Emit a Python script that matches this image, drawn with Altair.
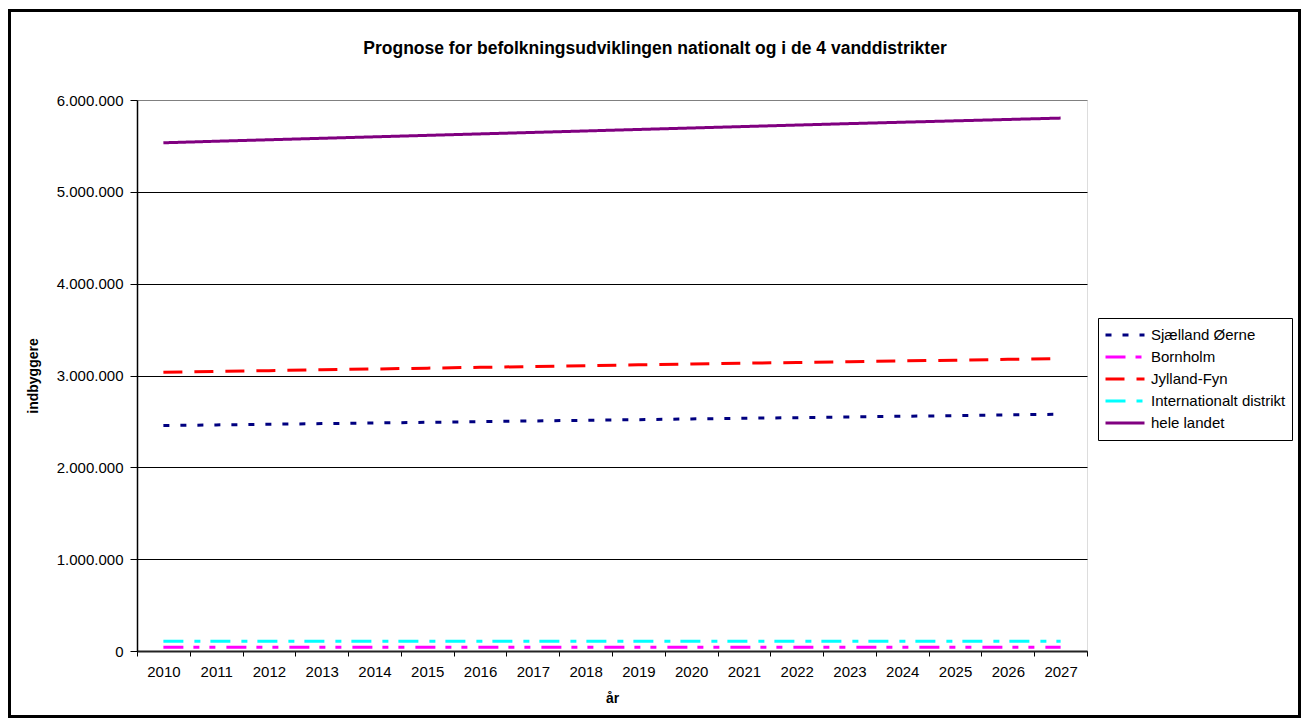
import altair as alt
import pandas as pd

years = [str(y) for y in range(2010, 2028)]
series_names = ["Sjælland Øerne", "Bornholm", "Jylland-Fyn", "Internationalt distrikt", "hele landet"]
chart_title = "Prognose for befolkningsudviklingen nationalt og i de 4 vanddistrikter"

sjaelland = [2455000, 2462000, 2469000, 2476000, 2483000, 2490000, 2498000, 2505000, 2512000,
             2519000, 2527000, 2534000, 2541000, 2549000, 2556000, 2563000, 2571000, 2578000]
bornholm = [42000, 42000, 41800, 41700, 41600, 41500, 41400, 41300, 41200,
            41100, 41000, 40900, 40800, 40700, 40600, 40500, 40400, 40300]
jylland = [3035000, 3044000, 3053000, 3062000, 3071000, 3080000, 3089000, 3098000, 3107000,
           3116000, 3125000, 3134000, 3142000, 3150000, 3159000, 3167000, 3176000, 3185000]
international = [106000, 106000, 106000, 106000, 106000, 106000, 106000, 106000, 106000,
                 106000, 106000, 106000, 106000, 106000, 106000, 106000, 106000, 106000]
hele = [5534000, 5551000, 5567000, 5583000, 5599000, 5615000, 5631000, 5647000, 5663000,
        5679000, 5695000, 5711000, 5727000, 5743000, 5758000, 5773000, 5788000, 5803000]

colors = ["#000080", "#FF00FF", "#FF0000", "#00FFFF", "#800080"]
dashes = [[6, 11], [20, 10, 6, 10, 6, 11], [19, 12], [20, 11, 6, 10], [1, 0]]

rows = []
for name, vals in zip(series_names, [sjaelland, bornholm, jylland, international, hele]):
    for y, v in zip(years, vals):
        rows.append({"year": y, "value": v, "series": name})
df = pd.DataFrame(rows)

FONT = "Liberation Sans"

legend_kw = dict(title=None, orient="none", legendX=961, legendY=218,
                 symbolType="stroke", symbolStrokeWidth=3, symbolSize=1521,
                 clipHeight=22, labelFont=FONT, labelFontSize=15,
                 labelColor="black", labelOffset=5, strokeColor="black",
                 fillColor="white", padding=6, rowPadding=0, labelLimit=300)

lines = alt.Chart(df).mark_line(strokeWidth=3, clip=False).encode(
    x=alt.X("year:O", title="år", bandPosition=0.5,
            scale=alt.Scale(type="band", paddingInner=0, paddingOuter=0),
            axis=alt.Axis(tickBand="extent", labelAngle=0, labelFontSize=15, labelFont=FONT,
                          labelColor="black", tickColor="black", tickSize=5, domainColor="#222",
                          domainWidth=2, labelPadding=8, titleFont=FONT, titleFontSize=14,
                          titleFontWeight="bold", titleColor="black", titlePadding=12, grid=False)),
    y=alt.Y("value:Q", title="indbyggere",
            scale=alt.Scale(domain=[0, 6000000], nice=False),
            axis=alt.Axis(values=[0, 1000000, 2000000, 3000000, 4000000, 5000000, 6000000],
                          labelExpr="replace(replace(format(datum.value, ','), ',', '.'), ',', '.')",
                          labelFontSize=15, labelFont=FONT, labelColor="black",
                          tickColor="black", tickSize=7, labelPadding=7,
                          domainColor="black", domainWidth=1.5,
                          grid=True,
                          gridColor={"condition": {"test": "datum.value == 6000000", "value": "#808080"},
                                     "value": "black"},
                          gridWidth=1.2,
                          titleFont=FONT, titleFontSize=14, titleFontWeight="bold", titleColor="black",
                          titlePadding=16)),
    color=alt.Color("series:N", scale=alt.Scale(domain=series_names, range=colors),
                    legend=alt.Legend(**legend_kw)),
    strokeDash=alt.StrokeDash("series:N", scale=alt.Scale(domain=series_names, range=dashes),
                              legend=alt.Legend(**legend_kw)),
)

border = alt.Chart(alt.Data(values=[{"a": 1}])).mark_rect(
    fill=None, stroke="black", strokeWidth=3, clip=False
).encode(
    x=alt.value(-127.5), x2=alt.value(1162.5), y=alt.value(-89.5), y2=alt.value(616.5)
)

title = alt.Chart(alt.Data(values=[{"t": chart_title}])).mark_text(
    font=FONT, fontSize=17.5, fontWeight="bold", color="black",
    align="center", baseline="alphabetic", clip=False
).encode(
    text="t:N", x=alt.value(518), y=alt.value(-46)
)

chart = alt.layer(border, lines, title).properties(
    width=950, height=551,
    autosize=alt.AutoSizeParams(type="none"),
    padding={"left": 129, "top": 92, "right": 214, "bottom": 68},
).configure_view(stroke="#808080", strokeWidth=2).configure(background="white")

chart.save("out.html", embed_options={"renderer": "svg", "actions": False})
